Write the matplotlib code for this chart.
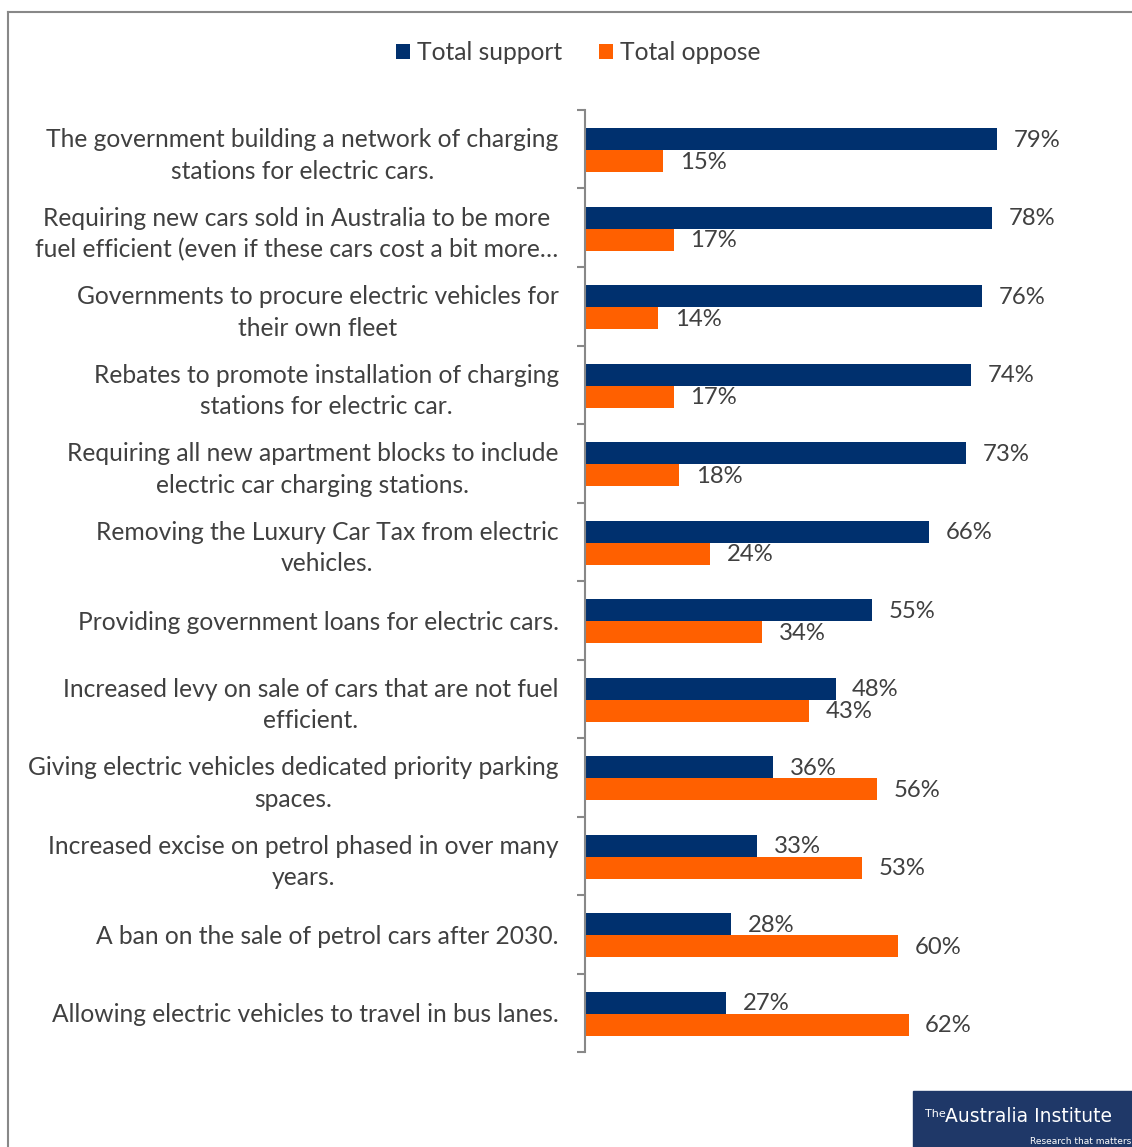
import numpy as np
import matplotlib.pyplot as plt
from matplotlib.lines import Line2D
from matplotlib.patches import Rectangle

# Data
labels = [
    "The government building a network of charging\nstations for electric cars.",
    "Requiring new cars sold in Australia to be more\nfuel efficient (even if these cars cost a bit more\u2026",
    "Governments to procure electric vehicles for\ntheir own fleet",
    "Rebates to promote installation of charging\nstations for electric car.",
    "Requiring all new apartment blocks to include\nelectric car charging stations.",
    "Removing the Luxury Car Tax from electric\nvehicles.",
    "Providing government loans for electric cars.",
    "Increased levy on sale of cars that are not fuel\nefficient.",
    "Giving electric vehicles dedicated priority parking\nspaces.",
    "Increased excise on petrol phased in over many\nyears.",
    "A ban on the sale of petrol cars after 2030.",
    "Allowing electric vehicles to travel in bus lanes.",
]
support = [79, 78, 76, 74, 73, 66, 55, 48, 36, 33, 28, 27]
oppose = [15, 17, 14, 17, 18, 24, 34, 43, 56, 53, 60, 62]

navy = '#00306E'
orange = '#FF6000'
txt = '#404040'
fs = 17.7

plt.rcParams['font.family'] = ['Lato', 'DejaVu Sans']

fig = plt.figure(figsize=(11.32, 11.47), dpi=100)
ax = fig.add_axes([0.5168, 0.0828, 0.455, 0.8213])

y = np.arange(len(labels))
h = 0.28
ax.barh(y - 0.13, support, height=h, color=navy, label='Total support')
ax.barh(y + 0.15, oppose, height=h, color=orange, label='Total oppose')

for i in range(len(labels)):
    ax.annotate(f"{support[i]}%", (support[i], y[i] - 0.13), xytext=(12, -1),
                textcoords='offset points', va='center', ha='left', fontsize=17.2, color=txt)
    ax.annotate(f"{oppose[i]}%", (oppose[i], y[i] + 0.15), xytext=(12, -1),
                textcoords='offset points', va='center', ha='left', fontsize=17.2, color=txt)

ax.set_ylim(len(labels) - 0.5, -0.5)
ax.set_xlim(0, 98.7)

ax.set_yticks(y)
ax.set_yticklabels(labels, fontsize=fs, color=txt, multialignment='center', linespacing=1.45)
ax.set_yticks(np.arange(-0.5, len(labels)), minor=True)
ax.tick_params(axis='y', which='major', length=0, pad=19)
ax.tick_params(axis='y', which='minor', length=6, width=1.5, color='#888888')
ax.set_xticks([])
for s in ['top', 'right', 'bottom']:
    ax.spines[s].set_visible(False)
ax.spines['left'].set_color('#888888')
ax.spines['left'].set_linewidth(1.5)

fig.legend(loc='center', bbox_to_anchor=(0.511, 0.954), ncol=2, frameon=False,
           fontsize=fs, handlelength=0.55, handleheight=0.55, handletextpad=0.3,
           columnspacing=1.5, labelcolor=txt)

# frame
fig.add_artist(Line2D([0.0071, 0.0071], [0, 0.9895], color='#888888', lw=1.5))
fig.add_artist(Line2D([0.0071, 1], [0.9895, 0.9895], color='#888888', lw=1.5))

# logo
fig.add_artist(Rectangle((913 / 1132, 0), 1, 56 / 1147, color='#1F3868'))
fig.text(0.8175, 0.0285, "The", color='white', fontsize=8, family='Liberation Sans Narrow', va='center')
fig.text(0.8345, 0.0265, "Australia Institute", color='white', fontsize=13.5,
         family='Liberation Sans Narrow', va='center')
fig.text(0.999, 0.0005, "Research that matters", color='white', fontsize=6.5,
         family='Liberation Sans Narrow', ha='right', va='bottom')

fig.savefig('out.png', dpi=100)
